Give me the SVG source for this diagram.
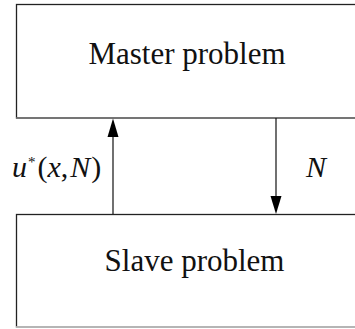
<svg xmlns="http://www.w3.org/2000/svg" width="355" height="329" viewBox="0 0 355 329">
<style>
.box{fill:#fff;stroke:#222;stroke-width:1.3}
.t{font-family:"Liberation Serif",serif;font-size:31px;fill:#111;text-anchor:middle}
.lbl{font-family:"Liberation Serif",serif;font-size:30px;fill:#111}
.i{font-style:italic}
.edge{stroke:#111;stroke-width:1.2;fill:none}
.head{fill:#000}
</style>
<rect width="355" height="329" fill="#fff"/>
<g id="master">
<rect class="box" x="16.5" y="4.5" width="400" height="113.5"/>
<line x1="16" y1="118" x2="355" y2="118" stroke="#777" stroke-width="1.6"/>
<text class="t" x="187" y="64">Master problem</text>
</g>
<g id="slave">
<rect class="box" x="16.5" y="214.5" width="400" height="112.5"/>
<line x1="16" y1="327" x2="355" y2="327" stroke="#ccc" stroke-width="1.5"/>
<text class="t" x="194.5" y="271">Slave problem</text>
</g>
<g id="connectors">
<line class="edge" x1="113" y1="214" x2="113" y2="136"/>
<polygon class="head" points="113,118.5 107.5,137 118.5,137"/>
<line class="edge" x1="276" y1="118" x2="276" y2="197"/>
<polygon class="head" points="276,214 270.5,196 281.5,196"/>
<text class="lbl" x="12" y="177"><tspan class="i">u</tspan><tspan font-size="15" dx="1" dy="-10">*</tspan><tspan dx="2" dy="10">(</tspan><tspan class="i">x</tspan><tspan>,</tspan><tspan class="i" dx="2">N</tspan><tspan dx="1">)</tspan></text>
<text class="lbl i" x="306" y="177" font-size="31">N</text>
</g>
</svg>
